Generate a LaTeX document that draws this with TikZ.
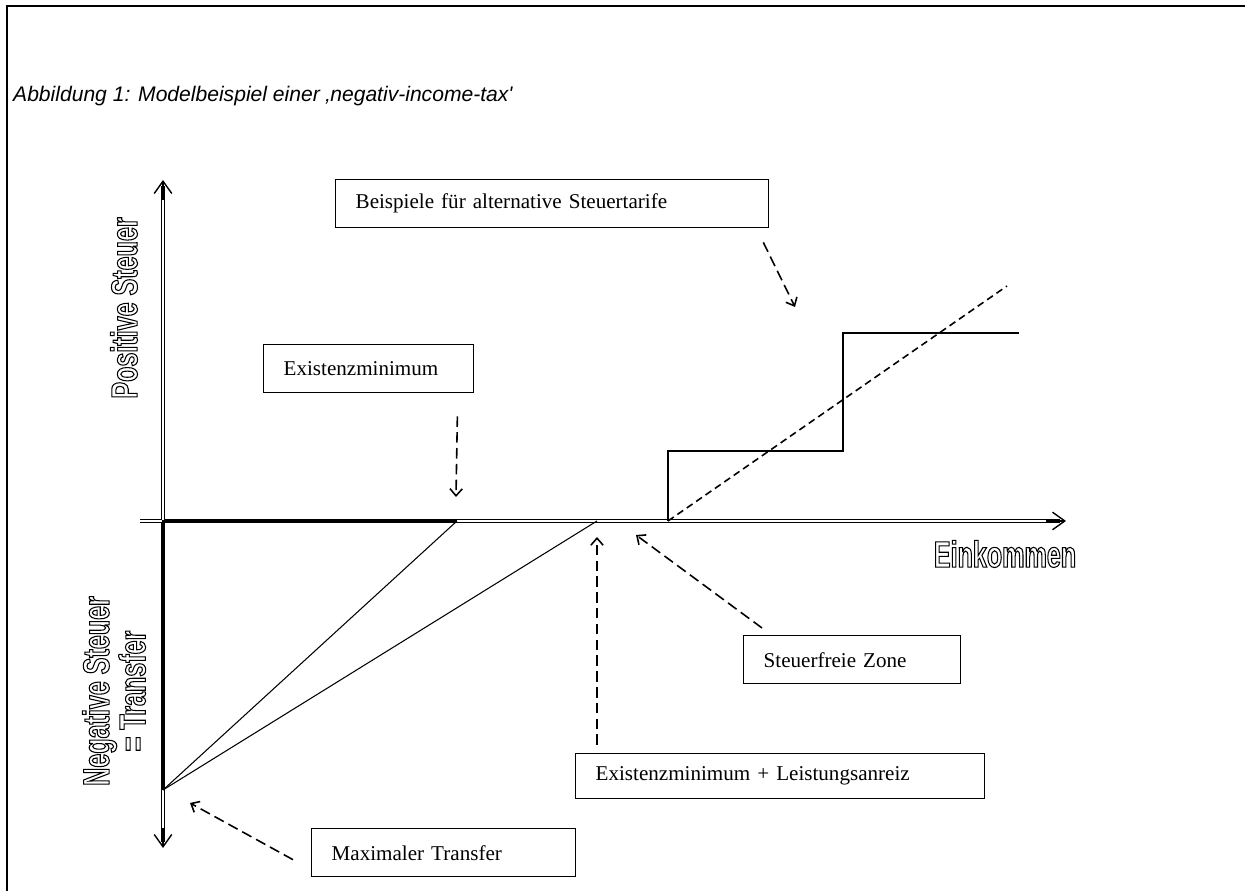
\documentclass[tikz,border=0pt]{standalone}
\usepackage{fontspec}
\setmainfont{Liberation Serif}
\newfontfamily\titlefont{Liberation Sans}
\newfontfamily\axisfont[FakeStretch=0.68]{Liberation Sans}
\usetikzlibrary{arrows.meta}
% hohle Schrift (nur Umriss)
\newcommand{\hohl}[1]{\special{pdf:literal direct 1 Tr 0.6 w}#1\special{pdf:literal direct 0 Tr}}

\begin{document}
\begin{tikzpicture}[x=0.02cm,y=0.02cm,
    infobox/.style={draw, line width=0.8pt, anchor=north west, minimum height=0.96cm,
        inner xsep=0.4cm, text width=#1, font=\fontsize{12}{14}\selectfont},
    axisout/.style={line width=2.4pt},
    axisin/.style={white, line width=0.8pt},
    axistip/.style={line width=0.8pt, -{Straight Barb[length=7pt,width=10pt]}},
    axislabel/.style={font=\axisfont\bfseries\fontsize{21}{19}\selectfont, align=center},
    hint/.style={line width=0.9pt, dash pattern=on 6pt off 3pt, -{Straight Barb[length=4pt,width=7pt]}},
    base/.style={line width=1.6pt}]

\useasboundingbox (0,0) rectangle (1245,891);

%Rahmen
\draw[line width=1.2pt] (7,-20) -- (7,885) -- (1270,885);

\node[anchor=base west, font=\titlefont\itshape\fontsize{12}{14}\selectfont] (titel) at (7,789)
    {Abbildung 1: Modelbeispiel einer ‚negativ-income-tax'};

%Punkte
\coordinate (O) at (163,370);
\coordinate (xl) at (140,370);
\coordinate (xr) at (1066,370);
\coordinate (yt) at (163,711);
\coordinate (yb) at (163,43);
\coordinate (A) at (457,370);
\coordinate (B) at (597,370);
\coordinate (T) at (163,101);
\coordinate (S) at (668,370);
\coordinate (s1) at (843,440);
\coordinate (s2) at (1019,558);
\coordinate (L) at (1007,605);

%Achsen (doppelt)
\draw[axisout] (xl) -- (1060,370);
\draw[axisout] (163,49) -- (163,705);
\draw[axisin] (xl) -- (1062,370);
\draw[axisin] (163,47) -- (163,707);
\draw[axistip] (1046,370) -- (xr);
\draw[axistip] (163,691) -- (yt);
\draw[axistip] (163,63) -- (yb);

\node[axislabel] (ek) at (1005,337) {\hohl{Einkommen}};
\node[axislabel, rotate=90] (pos) at (124,583) {\hohl{Positive Steuer}};
\node[axislabel, rotate=90] (neg) at (114,200) {\hohl{Negative Steuer}\\\hohl{= Transfer}};

%Transfer
\draw[base] (T) -- (O) -- (A);
\draw[line width=0.6pt] (T) -- (A);
\draw[line width=0.6pt] (T) -- (B);

%Tarife
\draw[line width=0.6pt] (S) |- (s1) |- (s2);
\draw[line width=0.9pt, dash pattern=on 4pt off 2.5pt] (S) -- (L);

%Kaesten
\node[infobox=7.86cm] (bsp) at (335,712) {Beispiele für alternative Steuertarife};
\node[infobox=3.4cm] (exm) at (263,547) {Existenzminimum};
\node[infobox=3.54cm] (szone) at (743,256) {Steuerfreie Zone};
\node[infobox=7.38cm, minimum height=0.9cm] (exl) at (575,138) {Existenzminimum + Leistungsanreiz};
\node[infobox=4.48cm] (maxt) at (311,63) {Maximaler Transfer};

%Hinweispfeile
\coordinate (hb) at (795,584);
\coordinate (he) at (456,394);
\coordinate (hl) at (597,354);
\coordinate (hs) at (636,356);
\coordinate (hm) at (190,88);
\draw[hint] (bsp.south east) ++(-6,-14) -- (hb);
\draw[hint] (exm.south east) ++(-17,-23) -- (he);
\draw[hint] (exl.north west) ++(22,8) -- (hl);
\draw[hint] (szone.north west) ++(19,7) -- (hs);
\draw[hint] (maxt.west) ++(-18,-7) -- (hm);

\end{tikzpicture}
\end{document}
